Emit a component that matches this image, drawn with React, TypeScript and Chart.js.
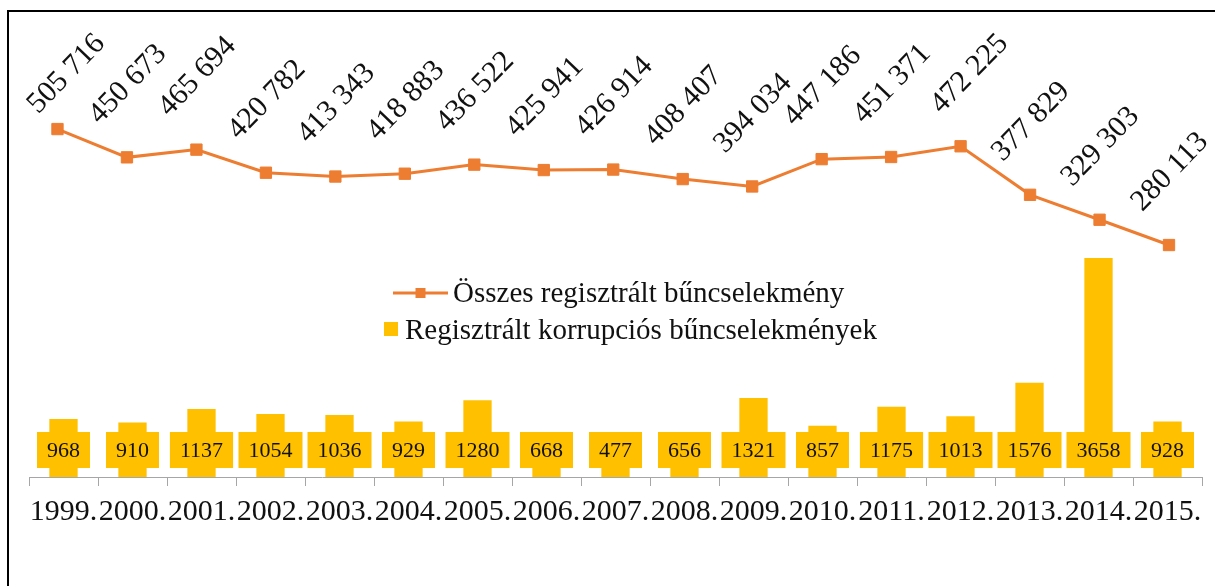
import React, { useEffect, useRef } from "react";
import { Chart, registerables } from "chart.js";

Chart.register(...registerables);

const years = ["1999.", "2000.", "2001.", "2002.", "2003.", "2004.", "2005.", "2006.", "2007.", "2008.", "2009.", "2010.", "2011.", "2012.", "2013.", "2014.", "2015."];
const totalCrimes = [505716, 450673, 465694, 420782, 413343, 418883, 436522, 425941, 426914, 408407, 394034, 447186, 451371, 472225, 377829, 329303, 280113];
const corruptionCrimes = [968, 910, 1137, 1054, 1036, 929, 1280, 668, 477, 656, 1321, 857, 1175, 1013, 1576, 3658, 928];
const lineLabel = "Összes regisztrált bűncselekmény";
const barLabel = "Regisztrált korrupciós bűncselekmények";

const SERIF = "'Liberation Serif', 'Times New Roman', serif";
const ORANGE = "#ED7D31";
const GOLD = "#FFC000";
const TEXT = "#111111";

function fmt(v: number): string {
  return String(v).replace(/\B(?=(\d{3})+(?!\d))/g, " ");
}

const decor = {
  id: "decor",
  beforeDraw(chart: any) {
    const ctx = chart.ctx;
    ctx.save();
    ctx.fillStyle = "#000";
    ctx.fillRect(7, 10, chart.width, 2);
    ctx.fillRect(7, 10, 2, chart.height);
    ctx.restore();
  },
  afterDatasetsDraw(chart: any) {
    const ctx = chart.ctx;
    const area = chart.chartArea;
    ctx.save();
    // bar value boxes
    const barMeta = chart.getDatasetMeta(1);
    ctx.font = `22px ${SERIF}`;
    ctx.textAlign = "center";
    ctx.textBaseline = "middle";
    barMeta.data.forEach((el: any, i: number) => {
      const txt = String(corruptionCrimes[i]);
      const w = ctx.measureText(txt).width + 20;
      const cy = area.bottom - 27;
      ctx.fillStyle = GOLD;
      ctx.fillRect(el.x - w / 2, cy - 18, w, 36);
      ctx.fillStyle = TEXT;
      ctx.fillText(txt, el.x, cy + 1);
    });
    // line labels rotated
    const lineMeta = chart.getDatasetMeta(0);
    ctx.font = `30px ${SERIF}`;
    lineMeta.data.forEach((el: any, i: number) => {
      let cx = el.x + 1;
      let cy = el.y - 73;
      if (cy < 74) {
        cx += 8;
        cy = 74;
      }
      ctx.save();
      ctx.translate(cx, cy);
      ctx.rotate((-46 * Math.PI) / 180);
      ctx.fillStyle = TEXT;
      ctx.fillText(fmt(totalCrimes[i]), 0, 0);
      ctx.restore();
    });
    // legend
    const lx = 393;
    const ly = 293;
    ctx.strokeStyle = ORANGE;
    ctx.lineWidth = 3;
    ctx.beginPath();
    ctx.moveTo(lx, ly);
    ctx.lineTo(lx + 55, ly);
    ctx.stroke();
    ctx.fillStyle = ORANGE;
    ctx.fillRect(lx + 27.5 - 5, ly - 5, 10, 10);
    ctx.font = `29px ${SERIF}`;
    ctx.textAlign = "left";
    ctx.textBaseline = "middle";
    ctx.fillStyle = TEXT;
    ctx.fillText(lineLabel, 453, ly + 1);
    ctx.fillStyle = GOLD;
    ctx.fillRect(384, 322, 14, 14);
    ctx.fillStyle = TEXT;
    ctx.fillText(barLabel, 405, 331);
    ctx.restore();
  },
};

export default function App() {
  const ref = useRef<HTMLCanvasElement | null>(null);
  useEffect(() => {
    if (!ref.current) return;
    const chart = new Chart(ref.current, {
      type: "bar",
      data: {
        labels: years,
        datasets: [
          {
            type: "line",
            label: lineLabel,
            data: totalCrimes.map((v, i) => ({ x: i, y: v })),
            xAxisID: "x2",
            yAxisID: "y1",
            borderColor: ORANGE,
            backgroundColor: ORANGE,
            borderWidth: 3,
            pointStyle: "rect",
            pointRadius: 8,
            pointBorderWidth: 1,
            pointBorderColor: ORANGE,
            pointBackgroundColor: ORANGE,
            tension: 0,
          } as any,
          {
            type: "bar",
            label: barLabel,
            data: corruptionCrimes,
            xAxisID: "x",
            yAxisID: "y",
            backgroundColor: GOLD,
            borderWidth: 0,
            grouped: false,
            barPercentage: 0.41,
            categoryPercentage: 1,
          } as any,
        ],
      },
      options: {
        responsive: true,
        maintainAspectRatio: false,
        animation: false,
        layout: { padding: { left: 29, right: 13, top: 20, bottom: 0 } },
        plugins: { legend: { display: false }, tooltip: { enabled: false } },
        scales: {
          x: {
            type: "category",
            offset: true,
            afterFit: (s: any) => {
              s.height = 109;
            },
            grid: {
              offset: true,
              drawOnChartArea: false,
              drawTicks: true,
              tickLength: 9,
              color: "#a6a6a6",
            },
            border: { display: true, color: "#a6a6a6", width: 1 },
            ticks: {
              color: TEXT,
              padding: 8,
              maxRotation: 0,
              autoSkip: false,
              font: { family: SERIF, size: 30 },
            },
          },
          x2: {
            type: "linear",
            display: false,
            offset: false,
            grid: { offset: false },
            min: -0.41,
            max: 16.475,
          },
          y: {
            display: false,
            min: 0,
            max: 7633,
          },
          y1: {
            display: false,
            min: -171206,
            max: 717899,
          },
        },
      },
      plugins: [decor],
    });
    return () => chart.destroy();
  }, []);
  return (
    <div style={{ position: "fixed", left: 0, top: 0, width: 1215, height: 586 }}>
      <canvas ref={ref} />
    </div>
  );
}
